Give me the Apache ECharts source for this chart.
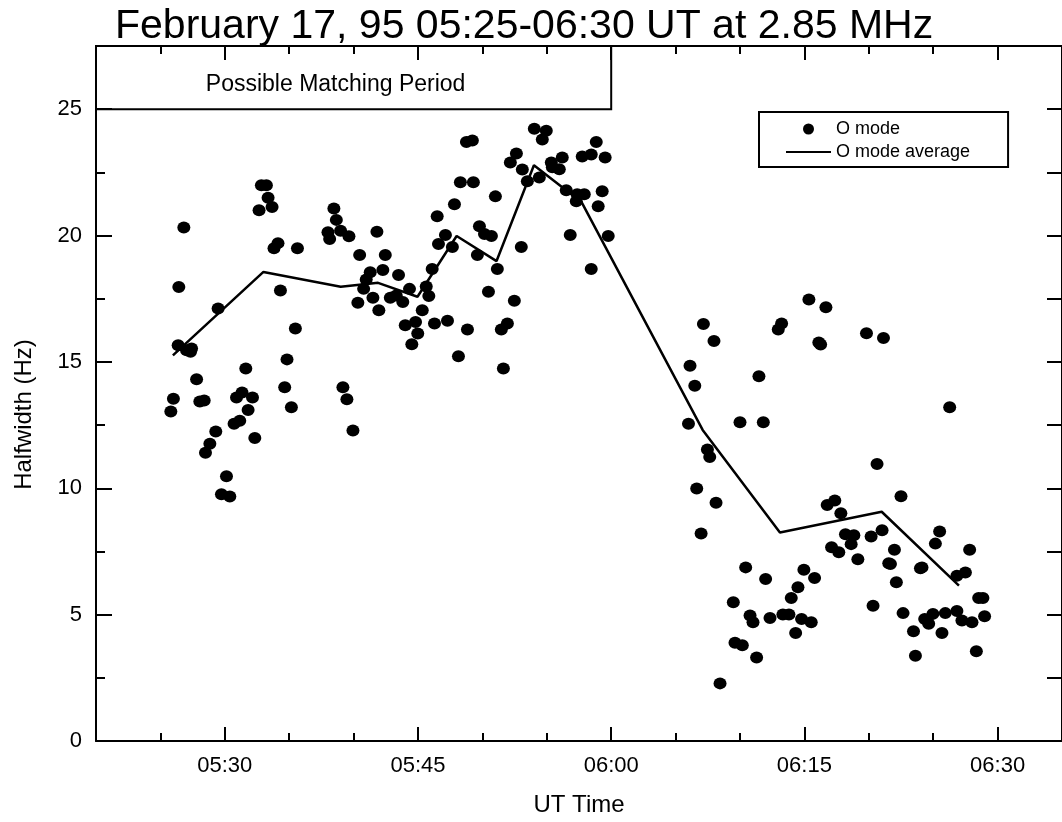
<!DOCTYPE html>
<html>
<head>
<meta charset="utf-8">
<script src="https://cdn.jsdelivr.net/npm/echarts@6/dist/echarts.min.js"></script>
<style>
html,body{margin:0;padding:0;background:#fff;}
#chart{width:1062px;height:822px;}
</style>
</head>
<body>
<div id="chart"></div>
<script>
// Time values are minutes since 00:00 UT.
const titleText = 'February 17, 95 05:25-06:30 UT at 2.85 MHz';
const xMajorTicks = [330, 345, 360, 375, 390];
const yMajorTicks = [0, 5, 10, 15, 20, 25];
const oModeData = [
[325.81,13.04],[326.01,13.54],[326.38,15.66],[326.43,17.96],[326.82,20.32],[327.03,15.46],[327.42,15.53],[327.34,15.40],
[327.81,14.31],[328.06,13.43],[328.40,13.47],[328.50,11.41],[328.84,11.76],[329.30,12.25],[329.48,17.11],[329.74,9.76],
[330.39,9.67],[330.13,10.48],[330.72,12.55],[330.91,13.59],[331.16,12.67],[331.34,13.79],[331.63,14.74],[331.81,13.10],
[332.15,13.59],[332.33,11.99],[332.66,21.00],[332.84,21.99],[333.23,21.99],[333.36,21.50],[333.67,21.13],[333.82,19.50],
[334.13,19.70],[334.32,17.83],[334.65,14.00],[334.83,15.10],[335.17,13.21],[335.48,16.32],[335.64,19.50],[338.01,20.13],
[338.14,19.86],[338.47,21.07],[338.66,20.62],[338.99,20.19],[339.17,14.00],[339.48,13.52],[339.64,19.97],[339.95,12.29],
[340.33,17.34],[340.47,19.23],[340.78,17.89],[340.98,18.26],[341.29,18.55],[341.50,17.54],[341.81,20.15],[341.96,17.04],
[342.27,18.64],[342.46,19.23],[342.85,17.54],[343.31,17.63],[343.49,18.44],[343.82,17.37],[344.01,16.45],[344.34,17.89],
[344.52,15.70],[344.81,16.58],[344.98,16.12],[345.33,17.04],[345.64,17.98],[345.84,17.61],[346.10,18.68],[346.28,16.52],
[346.59,19.67],[346.49,20.76],[347.13,20.02],[347.29,16.63],[347.67,19.55],[347.83,21.24],[348.14,15.22],[348.29,22.11],
[348.76,23.70],[349.22,23.76],[348.84,16.28],[349.30,22.11],[349.61,19.23],[349.77,20.37],[350.16,20.06],[350.70,19.98],
[350.47,17.78],[351.01,21.55],[351.16,18.68],[351.47,16.28],[351.63,14.74],[351.94,16.52],[352.17,22.89],[352.48,17.42],
[352.64,23.25],[353.02,19.55],[353.10,22.61],[353.49,22.15],[354.03,24.23],[354.96,24.15],[354.65,23.80],[354.42,22.30],
[355.35,22.89],[355.43,22.70],[356.20,23.09],[355.97,22.62],[356.51,21.79],[356.82,20.02],[357.36,21.63],[357.91,21.63],
[357.29,21.36],[357.75,23.13],[358.45,23.21],[358.45,18.68],[358.84,23.70],[358.99,21.16],[359.30,21.75],[359.53,23.09],
[359.77,19.98],
[366.00,12.55],[366.12,14.85],[366.49,14.06],[366.64,9.99],[366.98,8.21],[367.16,16.50],[367.47,11.53],[367.65,11.24],
[367.98,15.83],[368.14,9.43],[368.45,2.28],[369.48,5.49],[369.61,3.89],[370.00,12.61],[370.18,3.79],[370.44,6.87],
[370.78,4.97],[371.01,4.70],[371.29,3.30],[371.47,14.43],[371.81,12.61],[371.99,6.41],[372.33,4.87],[372.97,16.28],
[373.23,16.52],[373.33,5.01],[373.80,5.01],[373.98,5.66],[374.32,4.27],[374.50,6.08],[374.78,4.83],[374.96,6.78],
[375.35,17.47],[375.53,4.70],[375.79,6.45],[376.12,15.77],[376.26,15.69],[376.67,17.16],[376.77,9.34],[377.36,9.52],
[377.11,7.67],[377.67,7.47],[377.83,9.01],[378.19,8.18],[378.63,7.79],[378.84,8.14],[379.15,7.19],[379.82,16.13],
[380.18,8.09],[380.33,5.35],[380.64,10.96],[381.03,8.34],[381.14,15.95],[381.55,7.03],[381.68,7.00],[381.99,7.57],
[382.14,6.28],[382.50,9.68],[382.66,5.06],[383.47,4.34],[383.62,3.37],[384.01,6.84],[384.13,6.87],[384.34,4.83],
[384.65,4.64],[384.98,5.03],[385.17,7.81],[385.50,8.29],[385.68,4.27],[385.94,5.06],[386.28,13.21],[386.84,6.54],
[386.84,5.14],[387.23,4.77],[387.50,6.67],[387.83,7.57],[388.01,4.70],[388.35,3.55],[388.53,5.66],[388.86,5.66],
[388.99,4.94]
];
const avgData = [
[325.97,15.26],[333.0,18.56],[339.0,17.97],[341.9,18.13],[344.96,17.58],[348.0,19.98],[351.1,18.99],
[354.0,22.78],[357.7,21.32],[367.1,12.31],[373.1,8.25],[381.0,9.07],[387.0,6.15]
];
const matchStart = 320, matchEnd = 360, matchLow = 25;

const FONT = "'Liberation Sans', Arial, sans-serif";
const fmtTime = v => {
  const h = Math.floor(v / 60), m = Math.round(v - h * 60);
  return String(h).padStart(2, '0') + ':' + String(m).padStart(2, '0');
};
const X_MIN = 320, X_MAX = 395, Y_MIN = 0, Y_MAX = 27.5;
const black = {color: '#000', width: 2};

const chart = echarts.init(document.getElementById('chart'), null, {renderer: 'canvas'});
const xBase = {type: 'value', min: X_MIN, max: X_MAX, splitLine: {show: false}};
const yBase = {type: 'value', min: Y_MIN, max: Y_MAX, splitLine: {show: false}};
chart.setOption({
  animation: false,
  backgroundColor: '#fff',
  textStyle: {fontFamily: FONT, color: '#000'},
  title: {
    text: titleText, left: 110, top: 0, padding: [6, 5, 5, 5],
    textStyle: {fontFamily: FONT, fontSize: 41, fontWeight: 'normal', color: '#000'}
  },
  legend: {
    data: [
      {name: 'O mode'},
      {name: 'O mode average', itemStyle: {opacity: 0, borderWidth: 0}}
    ],
    orient: 'vertical', left: 759, top: 112,
    itemWidth: 45, itemHeight: 11, itemGap: 5, padding: [8, 38, 6, 26],
    borderColor: '#000', borderWidth: 2, selectedMode: false,
    textStyle: {fontFamily: FONT, fontSize: 18, color: '#000'}
  },
  grid: {left: 96, top: 46, width: 967, height: 698.5, containLabel: false},
  xAxis: [
    Object.assign({}, xBase, {
      position: 'bottom',
      axisLine: {show: true, onZero: false, lineStyle: black},
      axisTick: {show: true, inside: true, length: 14, customValues: xMajorTicks, lineStyle: black},
      axisLabel: {show: true, customValues: xMajorTicks, formatter: fmtTime, fontSize: 22, color: '#000', margin: 14, fontFamily: FONT},
      name: 'UT Time', nameLocation: 'middle', nameGap: 52,
      nameTextStyle: {fontSize: 24, color: '#000', fontFamily: FONT}
    }),
    Object.assign({}, xBase, {
      position: 'bottom', interval: 5,
      axisLine: {show: false, onZero: false},
      axisTick: {show: true, inside: true, length: 8, lineStyle: black},
      axisLabel: {show: false}
    }),
    Object.assign({}, xBase, {
      position: 'top',
      axisLine: {show: true, onZero: false, lineStyle: black},
      axisTick: {show: true, inside: true, length: 14, customValues: xMajorTicks, lineStyle: black},
      axisLabel: {show: false}
    }),
    Object.assign({}, xBase, {
      position: 'top', interval: 5,
      axisLine: {show: false, onZero: false},
      axisTick: {show: true, inside: true, length: 8, lineStyle: black},
      axisLabel: {show: false}
    })
  ],
  yAxis: [
    Object.assign({}, yBase, {
      position: 'left',
      axisLine: {show: true, onZero: false, lineStyle: black},
      axisTick: {show: true, inside: true, length: 16, customValues: yMajorTicks, lineStyle: black},
      axisLabel: {show: true, customValues: yMajorTicks, fontSize: 22, color: '#000', margin: 14, fontFamily: FONT},
      name: 'Halfwidth (Hz)', nameLocation: 'middle', nameGap: 60, nameRotate: 90,
      nameTextStyle: {fontSize: 24, color: '#000', fontFamily: FONT, padding: [0, 42, 0, 0]}
    }),
    Object.assign({}, yBase, {
      position: 'left', interval: 2.5,
      axisLine: {show: false, onZero: false},
      axisTick: {show: true, inside: true, length: 9, lineStyle: black},
      axisLabel: {show: false}
    }),
    Object.assign({}, yBase, {
      position: 'right', interval: 2.5,
      axisLine: {show: true, onZero: false, lineStyle: black},
      axisTick: {show: true, inside: true, length: 15, lineStyle: black},
      axisLabel: {show: false}
    })
  ],
  series: [
    {
      name: 'O mode', type: 'scatter', xAxisIndex: 0, yAxisIndex: 0,
      data: oModeData, symbol: 'circle', symbolSize: [13, 12],
      itemStyle: {color: '#000', opacity: 1}, emphasis: {disabled: true}
    },
    {
      name: 'O mode average', type: 'line', xAxisIndex: 0, yAxisIndex: 0,
      data: avgData, showSymbol: false, symbol: 'none',
      lineStyle: {color: '#000', width: 2.5}, itemStyle: {color: '#000'},
      emphasis: {disabled: true},
      markArea: {
        silent: true,
        itemStyle: {color: 'rgba(0,0,0,0)', borderColor: '#000', borderWidth: 2},
        label: {show: true, position: 'inside', color: '#000', fontSize: 23, fontFamily: FONT, offset: [-18, 7],
                formatter: 'Possible Matching Period'},
        data: [[{xAxis: matchStart, yAxis: matchLow}, {xAxis: matchEnd, yAxis: Y_MAX}]]
      }
    }
  ]
});
</script>
</body>
</html>
